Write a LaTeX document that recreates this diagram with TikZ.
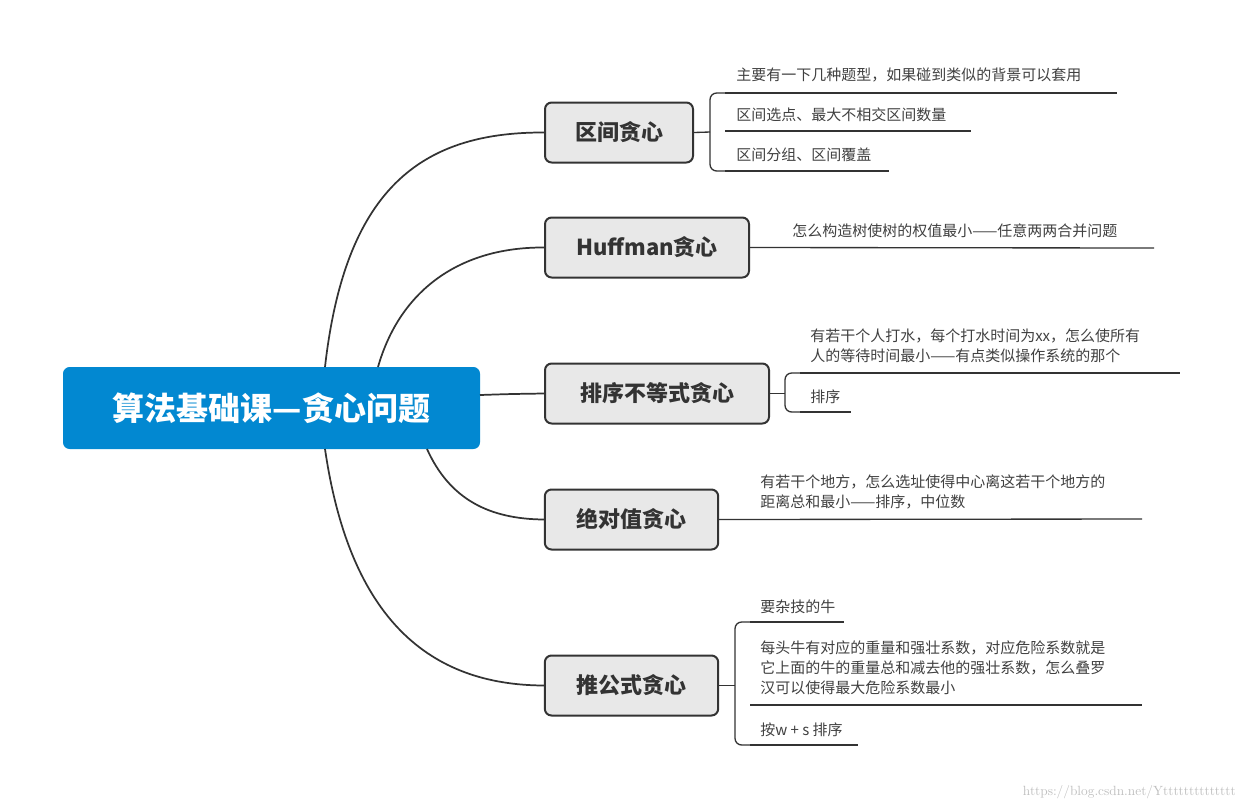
\documentclass[tikz,border=0pt]{standalone}
\usepackage{fontspec}
\setmainfont{Noto Sans CJK SC}
\begin{document}
\begin{tikzpicture}[x=0.75pt,y=-0.75pt,
  topic/.style={draw=black!80,line width=1.5pt,fill=black!9,rounded corners=5pt,minimum height=45pt,inner sep=0pt,font=\fontsize{16.5}{20}\selectfont\bfseries,text=black!80},
  leaf/.style={anchor=west,inner sep=0pt,font=\fontsize{11.25}{15}\selectfont,text=black!75,align=left},
  conn/.style={draw=black!80,line width=1.3pt},
  ul/.style={draw=black!80,line width=1pt},
  br/.style={draw=black!80,line width=1pt,rounded corners=5pt}]
\useasboundingbox (0,0) rectangle (1242,808);
\node[fill={rgb,255:red,2;green,136;blue,209},rounded corners=5pt,minimum width=312.75pt,minimum height=61.5pt,text=white,font=\fontsize{24}{28}\selectfont\bfseries] (root) at (271.5,408) {算法基础课—贪心问题};
\node[topic,minimum width=111pt] (t1) at (619,132.5) {区间贪心};
\node[topic,minimum width=153pt] (t2) at (647,247.5) {Huffman贪心};
\node[topic,minimum width=168pt] (t3) at (657,393.5) {排序不等式贪心};
\node[topic,minimum width=130pt] (t4) at (631.5,519.5) {绝对值贪心};
\node[topic,minimum width=130pt] (t5) at (631.5,685.5) {推公式贪心};
\coordinate (r1) at (325,367); \coordinate (r2) at (378,367);
\coordinate (r3) at (480,395); \coordinate (r4) at (427,449); \coordinate (r5) at (325,449);
\draw[conn] (r1) .. controls (345,190) and (420,132) .. (t1.west);
\draw[conn] (r2) .. controls (400,290) and (460,247) .. (t2.west);
\draw[conn] (r3) .. controls (510,394) .. (t3.west);
\draw[conn] (r4) .. controls (450,500) and (490,519) .. (t4.west);
\draw[conn] (r5) .. controls (350,620) and (430,685) .. (t5.west);
% 区间
\node[leaf] (a1) at (736,75) {主要有一下几种题型，如果碰到类似的背景可以套用};
\node[leaf] (a2) at (736,115) {区间选点、最大不相交区间数量};
\node[leaf] (a3) at (736,155) {区间分组、区间覆盖};
\draw[ul] (725,93) coordinate (a1s) -- (1117,93);
\draw[ul] (725,131) -- (971,131);
\draw[ul] (725,171) coordinate (a3s) -- (889,171);
\draw[br] (a1s) -- (710,93) -- (710,171) -- (a3s);
\draw[ul] (t1.east) -- (710,132);
% Huffman
\node[leaf] (b1) at (792,231) {怎么构造树使树的权值最小——任意两两合并问题};
\draw[ul] (t2.east) -- (1154,248);
% 排序
\node[leaf] (c1) at (810,346) {有若干个人打水，每个打水时间为xx，怎么使所有\\人的等待时间最小——有点类似操作系统的那个};
\node[leaf] (c2) at (810,397) {排序};
\draw[ul] (800,373) coordinate (c1s) -- (1180,373);
\draw[ul] (800,412) coordinate (c2s) -- (851,412);
\draw[br] (c1s) -- (785,373) -- (785,412) -- (c2s);
\draw[ul] (t3.east) -- (785,393.5);
% 绝对值
\node[leaf] (d1) at (760,492) {有若干个地方，怎么选址使得中心离这若干个地方的\\距离总和最小——排序，中位数};
\draw[ul] (t4.east) -- (1142,519);
% 推公式
\node[leaf] (e1) at (760,607) {要杂技的牛};
\node[leaf] (e2) at (760,668) {每头牛有对应的重量和强壮系数，对应危险系数就是\\它上面的牛的重量总和减去他的强壮系数，怎么叠罗\\汉可以使得最大危险系数最小};
\node[leaf] (e3) at (760,730) {按w + s 排序};
\draw[ul] (750,622) coordinate (e1s) -- (844,622);
\draw[ul] (750,705) -- (1142,705);
\draw[ul] (750,745) coordinate (e3s) -- (858,745);
\draw[br] (e1s) -- (735,622) -- (735,745) -- (e3s);
\draw[ul] (t5.east) -- (735,685.5);
\node[anchor=east,inner sep=0pt,text=black!25,font=\fontfamily{Liberation Sans}\fontsize{10}{12}\selectfont] (wm) at (1236,792) {https://blog.csdn.net/Ytttttttttttttt};
\end{tikzpicture}
\end{document}
